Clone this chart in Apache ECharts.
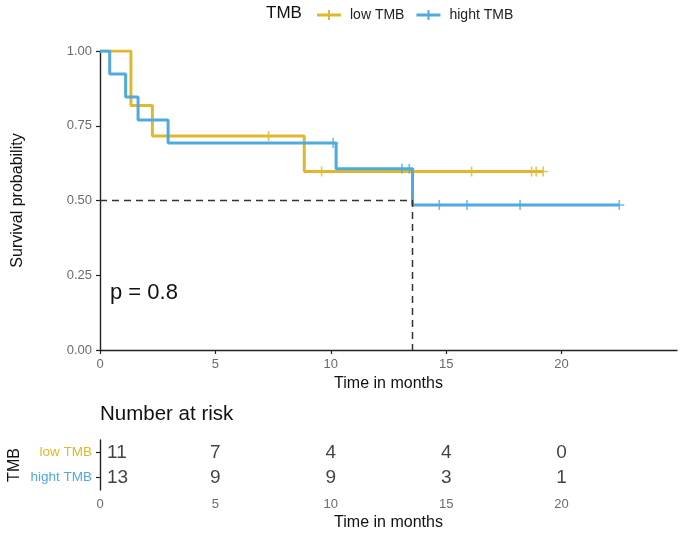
<!DOCTYPE html>
<html>
<head>
<meta charset="utf-8">
<script src="https://cdn.jsdelivr.net/npm/echarts@6/dist/echarts.min.js"></script>
<style>
  html, body { margin: 0; padding: 0; background: #fff; }
  #chart { width: 685px; height: 533px; }
</style>
</head>
<body>
<div id="chart"></div>
<script>
// KM step data (time in months, survival)
var lowTimes = [0, 1.34, 2.27, 8.85, 19.2];
var lowSurv = [1, 0.818, 0.716, 0.597, 0.597];
var lowCensor = [1.65, 7.3, 9.6, 16.1, 18.7, 18.9, 19.2];

var highTimes = [0, 0.42, 1.11, 1.65, 2.95, 10.23, 13.54, 22.5];
var highSurv = [1, 0.923, 0.846, 0.769, 0.692, 0.606, 0.485, 0.485];
var highCensor = [10.1, 13.08, 13.4, 14.7, 15.9, 18.2, 22.5];

var medianTime = 13.54;

// number at risk table
var groups = ['low TMB', 'hight TMB'];
var riskTimes = [0, 5, 10, 15, 20];
var riskLow = [11, 7, 4, 4, 0];
var riskHigh = [13, 9, 9, 3, 1];
var xTicks = [0, 5, 10, 15, 20];

var cLow = '#E0B82E', cHigh = '#4FAAE0';
var font = 'Liberation Sans, Arial, sans-serif';
var plus = 'path://M4.2,0H5.8V4.2H10V5.8H5.8V10H4.2V5.8H0V4.2H4.2Z';

function zip(a, b) { return a.map(function (v, i) { return [v, b[i]]; }); }
function survAt(times, surv, t) {
  var s = surv[0];
  for (var i = 0; i < times.length; i++) { if (times[i] <= t) s = surv[i]; }
  return s;
}
function censorPts(ct, times, surv) {
  return ct.map(function (t) { return [t, survAt(times, surv, t)]; });
}
function riskPts(row, counts) {
  return riskTimes.map(function (t, i) {
    var d = { value: [t, row, counts[i]] };
    if (t === 0) d.label = { align: 'left', offset: [7, 0] };
    return d;
  });
}

var axisLine = { lineStyle: { color: '#222', width: 1.4 } };
var axisTick = { lineStyle: { color: '#222', width: 1.2 }, length: 4 };
var tickLabel = { color: '#6b6b6b', fontSize: 13, fontFamily: font };
var titleText = { fontSize: 16, color: '#111', fontFamily: font };

var chart = echarts.init(document.getElementById('chart'));
chart.setOption({
  animation: false,
  backgroundColor: '#fff',
  legend: {
    left: 312, top: 3,
    itemWidth: 24, itemHeight: 10, itemGap: 12,
    textStyle: { fontSize: 14, color: '#222', fontFamily: font, padding: [0, 0, 0, 4] },
    data: [
      { name: 'low TMB', icon: 'path://M0,3.5H24V6.5H0Z M11,0H13V10H11Z', itemStyle: { color: cLow } },
      { name: 'hight TMB', icon: 'path://M0,3.5H24V6.5H0Z M11,0H13V10H11Z', itemStyle: { color: cHigh } }
    ]
  },
  graphic: [
    { type: 'text', left: 266, top: 5, style: { text: 'TMB', fontSize: 17, fill: '#111', fontFamily: font } },
    { type: 'text', left: 110, top: 282, style: { text: 'p = 0.8', fontSize: 22, fill: '#111', fontFamily: font } },
    { type: 'text', left: 100, top: 404, style: { text: 'Number at risk', fontSize: 20.5, fill: '#111', fontFamily: font } },
    { type: 'text', x: 15, y: 465, rotation: Math.PI / 2, style: { text: 'TMB', fontSize: 16, fill: '#111', fontFamily: font, align: 'center', verticalAlign: 'middle' } }
  ],
  grid: [
    { left: 100, top: 51, width: 577, height: 299 },
    { left: 100, top: 440, width: 577, height: 50 }
  ],
  xAxis: [
    {
      gridIndex: 0, type: 'value', min: 0, max: 25,
      name: 'Time in months', nameLocation: 'middle', nameGap: 25,
      nameTextStyle: titleText,
      splitLine: { show: false }, axisLine: axisLine,
      axisTick: Object.assign({ customValues: xTicks }, axisTick),
      axisLabel: Object.assign({ customValues: xTicks, margin: 8 }, tickLabel)
    },
    {
      gridIndex: 1, type: 'value', min: 0, max: 25,
      name: 'Time in months', nameLocation: 'middle', nameGap: 25,
      nameTextStyle: titleText,
      splitLine: { show: false }, axisLine: axisLine,
      axisTick: Object.assign({ customValues: xTicks }, axisTick),
      axisLabel: Object.assign({ customValues: xTicks, margin: 8 }, tickLabel)
    }
  ],
  yAxis: [
    {
      gridIndex: 0, type: 'value', min: 0, max: 1, interval: 0.25,
      name: 'Survival probability', nameLocation: 'middle', nameGap: 74, nameRotate: 90,
      nameTextStyle: titleText,
      splitLine: { show: false }, axisLine: Object.assign({ show: true }, axisLine),
      axisTick: Object.assign({ show: true }, axisTick),
      axisLabel: Object.assign({ formatter: function (v) { return v.toFixed(2); }, margin: 8 }, tickLabel)
    },
    {
      gridIndex: 1, type: 'category', inverse: true, data: groups,
      splitLine: { show: false }, axisLine: Object.assign({ show: true }, axisLine),
      axisTick: Object.assign({ show: true, alignWithLabel: true }, axisTick),
      axisLabel: {
        margin: 8, fontFamily: font, fontSize: 13.5,
        formatter: function (v) { return v === 'low TMB' ? '{a|' + v + '}' : '{b|' + v + '}'; },
        rich: {
          a: { color: cLow, fontSize: 13.5, fontFamily: font },
          b: { color: cHigh, fontSize: 13.5, fontFamily: font }
        }
      }
    }
  ],
  series: [
    {
      name: 'low TMB', type: 'line', step: 'end', xAxisIndex: 0, yAxisIndex: 0,
      data: zip(lowTimes, lowSurv), showSymbol: false, symbol: 'none',
      lineStyle: { color: cLow, width: 3 }, itemStyle: { color: cLow }, z: 2
    },
    {
      name: 'low TMB', type: 'scatter', xAxisIndex: 0, yAxisIndex: 0,
      data: censorPts(lowCensor, lowTimes, lowSurv), symbol: plus, symbolSize: 10,
      itemStyle: { color: cLow }, z: 3
    },
    {
      name: 'hight TMB', type: 'line', step: 'end', xAxisIndex: 0, yAxisIndex: 0,
      data: zip(highTimes, highSurv), showSymbol: false, symbol: 'none',
      lineStyle: { color: cHigh, width: 3 }, itemStyle: { color: cHigh }, z: 4
    },
    {
      name: 'hight TMB', type: 'scatter', xAxisIndex: 0, yAxisIndex: 0,
      data: censorPts(highCensor, highTimes, highSurv), symbol: plus, symbolSize: 10,
      itemStyle: { color: cHigh }, z: 5
    },
    {
      name: 'median', type: 'line', xAxisIndex: 0, yAxisIndex: 0,
      data: [[0, 0.5], [medianTime, 0.5], [medianTime, 0]], showSymbol: false, symbol: 'none',
      lineStyle: { color: '#333', width: 1.5, type: [7, 5] }, z: 6
    },
    {
      name: 'riskLow', type: 'scatter', xAxisIndex: 1, yAxisIndex: 1,
      data: riskPts(0, riskLow), symbolSize: 0,
      label: { show: true, position: 'inside', fontSize: 19, color: '#111', fontFamily: font,
        formatter: function (p) { return p.value[2]; } }
    },
    {
      name: 'riskHigh', type: 'scatter', xAxisIndex: 1, yAxisIndex: 1,
      data: riskPts(1, riskHigh), symbolSize: 0,
      label: { show: true, position: 'inside', fontSize: 19, color: '#111', fontFamily: font,
        formatter: function (p) { return p.value[2]; } }
    }
  ]
});
</script>
</body>
</html>
